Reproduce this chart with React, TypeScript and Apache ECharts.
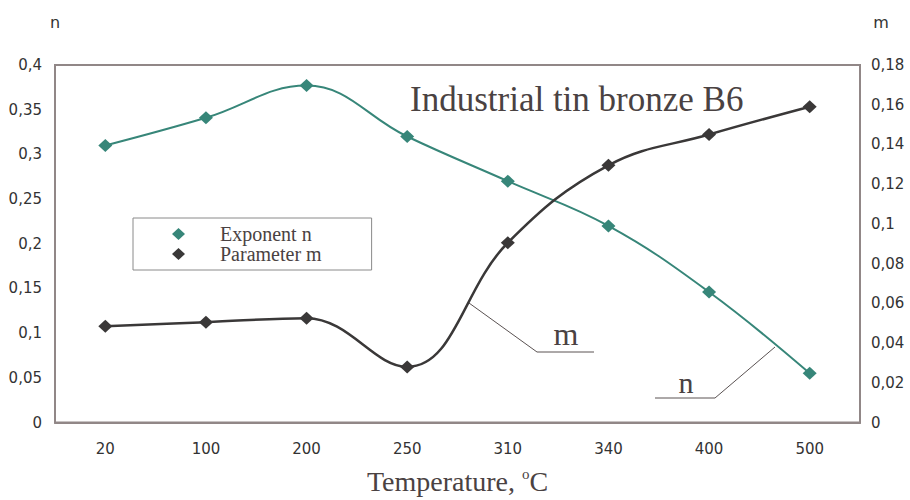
import React, { useEffect, useRef } from "react";
import * as echarts from "echarts";

const temperatures = ["20", "100", "200", "250", "310", "340", "400", "500"];
const exponentN = [0.31, 0.341, 0.377, 0.32, 0.27, 0.22, 0.146, 0.055];
const parameterM = [0.0485, 0.0505, 0.0525, 0.028, 0.0905, 0.1295, 0.145, 0.159];

const TEAL = "#378679";
const DARK = "#3a3838";
const FRAME = "#918787";
const TXT = "#333333";
const SERIF_TXT = "#4a4242";

const fmt = (v: number) => String(+v.toFixed(2)).replace(".", ",");

export default function App() {
  const ref = useRef<HTMLDivElement>(null);
  useEffect(() => {
    if (!ref.current) return;
    const chart = echarts.init(ref.current, null, { renderer: "svg" });
    chart.setOption({
      animation: false,
      backgroundColor: "#ffffff",
      grid: {
        left: 55,
        right: 50,
        top: 65,
        bottom: 74,
        show: true,
        borderColor: FRAME,
        borderWidth: 2,
        backgroundColor: "transparent",
      },
      legend: {
        left: 133,
        top: 218,
        orient: "vertical",
        selectedMode: false,
        backgroundColor: "#ffffff",
        borderColor: "#8a8a8a",
        borderWidth: 1,
        borderRadius: 0,
        padding: [6, 50, 6, 39],
        itemGap: 0,
        itemWidth: 13,
        itemHeight: 12,
        icon: "diamond",
        textStyle: {
          fontFamily: "Liberation Serif",
          fontSize: 20,
          lineHeight: 17,
          color: SERIF_TXT,
          padding: [0, 0, 0, 30],
        },
        data: ["Exponent n", "Parameter m"],
      },
      xAxis: {
        type: "category",
        data: temperatures,
        boundaryGap: true,
        axisLine: { show: true, lineStyle: { color: FRAME, width: 2 } },
        axisTick: { show: false },
        axisLabel: {
          margin: 19,
          fontFamily: "DejaVu Sans",
          fontSize: 15,
          color: TXT,
        },
        name: "Temperature, {sup|o}C",
        nameLocation: "middle",
        nameGap: 44,
        nameTextStyle: {
          fontFamily: "Liberation Serif",
          fontSize: 28,
          color: SERIF_TXT,
          rich: {
            sup: {
              fontFamily: "Liberation Serif",
              fontSize: 15,
              color: SERIF_TXT,
              verticalAlign: "top",
              padding: [0, 0, 14, 0],
            },
          },
        },
      },
      yAxis: [
        {
          type: "value",
          min: 0,
          max: 0.4,
          interval: 0.05,
          position: "left",
          axisLine: { show: true, lineStyle: { color: FRAME, width: 2 } },
          axisTick: { show: false },
          splitLine: { show: false },
          axisLabel: {
            margin: 13,
            fontFamily: "DejaVu Sans",
            fontSize: 15,
            color: TXT,
            formatter: fmt,
          },
          name: "n",
          nameLocation: "end",
          nameGap: 35,
          nameTextStyle: { fontFamily: "DejaVu Sans", fontSize: 16, color: TXT },
        },
        {
          type: "value",
          min: 0,
          max: 0.18,
          interval: 0.02,
          position: "right",
          axisLine: { show: true, lineStyle: { color: FRAME, width: 2 } },
          axisTick: { show: false },
          splitLine: { show: false },
          axisLabel: {
            margin: 11,
            fontFamily: "DejaVu Sans",
            fontSize: 15,
            color: TXT,
            formatter: fmt,
          },
          name: "m",
          nameLocation: "end",
          nameGap: 35,
          nameTextStyle: {
            fontFamily: "DejaVu Sans",
            fontSize: 16,
            color: TXT,
            padding: [0, 0, 0, 42],
          },
        },
      ],
      series: [
        {
          name: "Exponent n",
          type: "line",
          yAxisIndex: 0,
          data: exponentN,
          smooth: 0.4,
          symbol: "diamond",
          symbolSize: [14, 13],
          itemStyle: { color: TEAL },
          lineStyle: { color: TEAL, width: 2 },
        },
        {
          name: "Parameter m",
          type: "line",
          yAxisIndex: 1,
          data: parameterM,
          smooth: 0.4,
          symbol: "diamond",
          symbolSize: [14, 13],
          itemStyle: { color: DARK },
          lineStyle: { color: DARK, width: 2.5 },
        },
      ],
      graphic: [
        {
          type: "text",
          left: 410,
          top: 82,
          style: {
            text: "Industrial tin bronze B6",
            fontFamily: "Liberation Serif",
            fontSize: 35,
            fill: SERIF_TXT,
          },
        },
        {
          type: "polyline",
          shape: { points: [[469, 303], [537, 352], [594, 352]] },
          style: { stroke: "#5a5252", lineWidth: 1, fill: null },
        },
        {
          type: "text",
          x: 566,
          y: 350,
          style: {
            text: "m",
            fontFamily: "Liberation Serif",
            fontSize: 32,
            fill: SERIF_TXT,
            align: "center",
            verticalAlign: "bottom",
          },
        },
        {
          type: "polyline",
          shape: { points: [[655, 398], [715, 398], [775, 347]] },
          style: { stroke: "#5a5252", lineWidth: 1, fill: null },
        },
        {
          type: "text",
          x: 686,
          y: 397,
          style: {
            text: "n",
            fontFamily: "Liberation Serif",
            fontSize: 30,
            fill: SERIF_TXT,
            align: "center",
            verticalAlign: "bottom",
          },
        },
      ],
    });
    return () => chart.dispose();
  }, []);
  return (
    <div
      ref={ref}
      style={{ position: "absolute", left: 0, top: 0, width: 910, height: 500 }}
    />
  );
}
